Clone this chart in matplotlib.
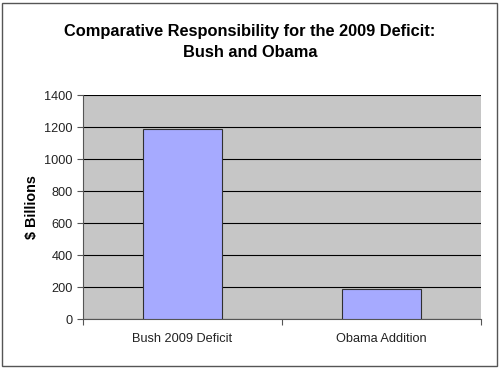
import matplotlib.pyplot as plt
from matplotlib.patches import Rectangle

categories = ["Bush 2009 Deficit", "Obama Addition"]
values = [1185, 185]
yticks = [0, 200, 400, 600, 800, 1000, 1200, 1400]

plt.rcParams['font.family'] = ['Liberation Sans', 'DejaVu Sans']

fig = plt.figure(figsize=(5, 3.68), dpi=100)
ax = fig.add_axes([83 / 500, 1 - 319 / 368, 398 / 500, 224 / 368])

ax.set_facecolor('#c6c6c6')
x = range(len(categories))
ax.bar(x, values, width=0.4, color='#a6aaff', edgecolor='#303030', linewidth=0.8, zorder=3)

ax.set_xlim(-0.5, 1.5)
ax.set_ylim(0, 1400)
ax.set_yticks(yticks)
ax.yaxis.grid(True, color='black', linewidth=0.8, zorder=1)
ax.set_axisbelow(True)

ax.set_xticks([-0.5, 0.5, 1.5])
ax.set_xticklabels([])
ax.set_xticks(list(x), minor=True)
ax.set_xticklabels(categories, minor=True, fontsize=9.2, color='#222222')
ax.tick_params(axis='x', which='minor', length=0, pad=10)
ax.tick_params(axis='x', which='major', length=4, color='#555555')
ax.tick_params(axis='y', length=4, labelsize=9.2, labelcolor='#222222', color='#555555')

for s in ['top', 'right']:
    ax.spines[s].set_visible(False)
ax.spines['left'].set_color('#555555')
ax.spines['bottom'].set_color('#555555')

ax.set_ylabel("$ Billions", fontsize=10.4, fontweight='bold', labelpad=4)

fig.text(0.5, 1 - 42 / 368, "Comparative Responsibility for the 2009 Deficit:\nBush and Obama",
         ha='center', va='center', fontsize=11.8, fontweight='bold', linespacing=1.5)

fig.patches.append(Rectangle((2 / 500, 2 / 368), 495 / 500, 363 / 368, transform=fig.transFigure,
                             fill=False, edgecolor='#555555', linewidth=1.0))

fig.savefig("out.png", dpi=100)
